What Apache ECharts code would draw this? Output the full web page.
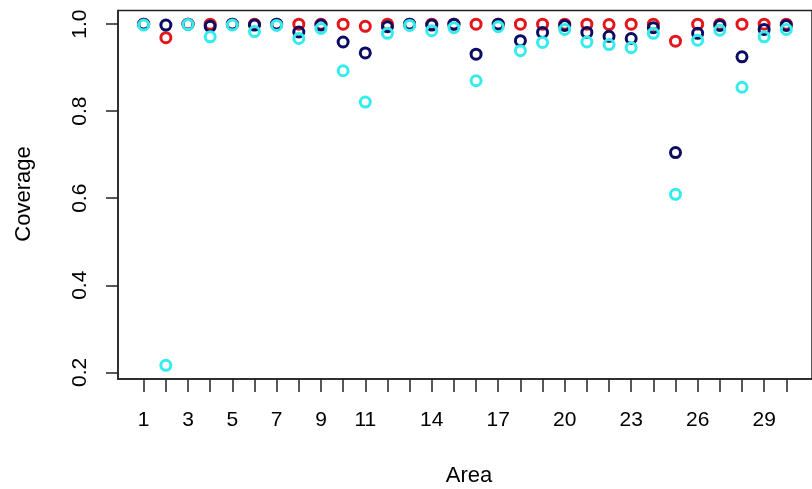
<!DOCTYPE html>
<html>
<head>
<meta charset="utf-8">
<script src="https://cdn.jsdelivr.net/npm/echarts@6/dist/echarts.min.js"></script>
<style>
html,body{margin:0;padding:0;background:#fff;}
#chart{width:812px;height:489px;}
</style>
</head>
<body>
<div id="chart"></div>
<script>
// Data
var areas = [1,2,3,4,5,6,7,8,9,10,11,12,13,14,15,16,17,18,19,20,21,22,23,24,25,26,27,28,29,30];
var redValues = [1.0, 0.969, 1.0, 1.0, 1.0, 1.0, 1.0, 1.0, 1.0, 1.0, 0.995, 1.0, 1.0, 1.0, 1.0, 1.0, 1.0, 1.0, 1.0, 1.0, 1.0, 0.999, 1.0, 1.0, 0.961, 1.0, 1.0, 1.0, 1.0, 1.0];
var navyValues = [1.0, 0.998, 1.0, 0.995, 1.0, 0.998, 1.0, 0.982, 0.998, 0.959, 0.934, 0.994, 1.0, 0.998, 1.0, 0.931, 1.0, 0.962, 0.981, 0.997, 0.981, 0.972, 0.967, 0.992, 0.705, 0.979, 0.997, 0.925, 0.988, 0.997];
var cyanValues = [0.998, 0.216, 0.999, 0.971, 0.998, 0.983, 0.997, 0.967, 0.990, 0.893, 0.821, 0.979, 0.997, 0.985, 0.992, 0.870, 0.994, 0.939, 0.958, 0.988, 0.959, 0.953, 0.946, 0.979, 0.609, 0.963, 0.986, 0.855, 0.971, 0.988];
var xTickValues = areas;
var xLabelValues = [1,3,5,7,9,11,14,17,20,23,26,29];
var yTickValues = [0.2, 0.4, 0.6, 0.8, 1.0];

function pairs(vals){ return areas.map(function(a,i){ return [a, vals[i]]; }); }

var FONT = '"Liberation Sans", Arial, Helvetica, sans-serif';
var chart = echarts.init(document.getElementById('chart'), null, {renderer:'canvas'});

function ser(name, vals, color){
  return {
    name: name, type: 'scatter', data: pairs(vals),
    symbol: 'circle', symbolSize: 10,
    itemStyle: {color: 'rgba(0,0,0,0)', borderColor: color, borderWidth: 3, opacity: 1},
    emphasis: {disabled: true}, animation: false, clip: false
  };
}

chart.setOption({
  animation: false,
  backgroundColor: '#fff',
  grid: {left: 118, top: 10.5, width: 701.6, height: 368.5, show: true,
         borderColor: '#222', borderWidth: 1.5, backgroundColor: 'rgba(0,0,0,0)'},
  xAxis: {
    type: 'value', min: -0.16, max: 31.16,
    axisLine: {show: true, onZero: false, lineStyle: {color: '#222', width: 1.5}},
    axisTick: {show: true, inside: false, length: 13, customValues: xTickValues, lineStyle: {color: '#222', width: 1.5}},
    axisLabel: {show: true, customValues: xLabelValues, margin: 31, color: '#000', fontSize: 21, fontFamily: FONT},
    splitLine: {show: false}
  },
  yAxis: {
    type: 'value', min: 0.1846, max: 1.0314,
    axisLine: {show: true, onZero: false, lineStyle: {color: '#222', width: 1.5}},
    axisTick: {show: true, inside: false, length: 12, customValues: yTickValues, lineStyle: {color: '#222', width: 1.5}},
    axisLabel: {show: true, customValues: yTickValues, rotate: 90, margin: 27, color: '#000', fontSize: 21, fontFamily: FONT,
                formatter: function(v){ return Number(v).toFixed(1); }},
    splitLine: {show: false}
  },
  graphic: [
    {type: 'text', x: 469, y: 476, style: {text: 'Area', fill: '#000', font: '22px ' + FONT, textAlign: 'center', textVerticalAlign: 'middle'}},
    {type: 'text', x: 24, y: 194, rotation: Math.PI/2, style: {text: 'Coverage', fill: '#000', font: '22px ' + FONT, textAlign: 'center', textVerticalAlign: 'middle'}}
  ],
  series: [
    ser('red', redValues, '#e4161c'),
    ser('navy', navyValues, '#0c0c62'),
    ser('cyan', cyanValues, '#35ecec')
  ]
});
</script>
</body>
</html>
